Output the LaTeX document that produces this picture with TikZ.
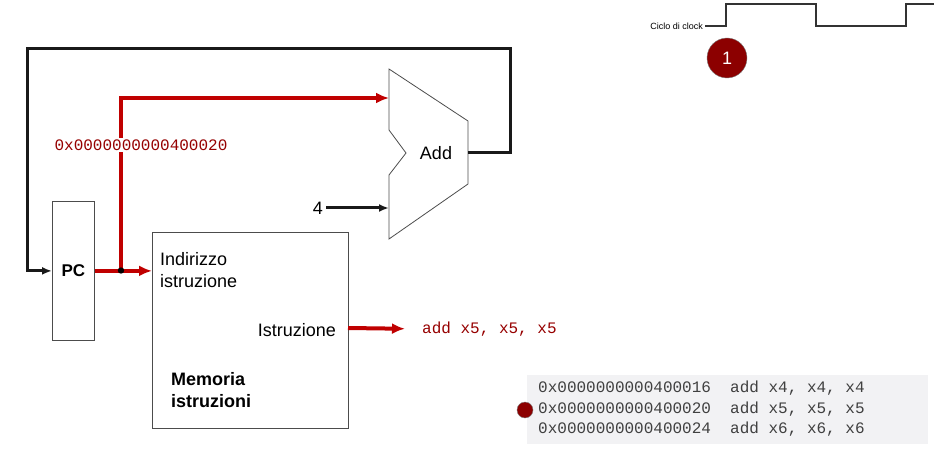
\documentclass[tikz,border=0pt]{standalone}
\usepackage{fontspec}
\setmainfont{Liberation Sans}
\setmonofont{Liberation Mono}
\usetikzlibrary{arrows.meta,positioning}
\definecolor{wirered}{RGB}{192,0,0}
\definecolor{textred}{RGB}{150,0,0}
\definecolor{dotred}{RGB}{140,0,0}
\definecolor{listgray}{RGB}{242,242,244}

\begin{document}
\begin{tikzpicture}[x=1pt,y=-1pt]
\tikzset{
unit/.style={rectangle,draw=black!70,thick,inner sep=0pt},
lbl/.style={font=\fontsize{18}{22}\selectfont, inner sep=0pt},
boldlbl/.style={font=\fontsize{18}{22}\selectfont\bfseries, inner sep=0pt},
codelbl/.style={font=\ttfamily\fontsize{16}{20.5}\selectfont, inner sep=1pt},
blackwire/.style={draw=black!90, line width=3pt},
blackarrow/.style={blackwire, -{Latex[length=10pt,width=8pt]}},
redwire/.style={draw=wirered, line width=4pt},
redarrow/.style={redwire, -{Latex[length=13pt,width=11pt]}},
stepdot/.style={circle, fill=dotred, draw=gray, inner sep=0pt},
}
\useasboundingbox (0,0) rectangle (934,449);

% blocks
\node [unit, minimum width=42pt, minimum height=139pt, anchor=north west, font=\fontsize{17}{20}\selectfont\bfseries] (pc) at (52,201) {PC};
\node [unit, minimum width=196pt, minimum height=196pt, anchor=north west] (imem) at (152,232) {};
\node [lbl, anchor=north west, align=left] (imemin) at (160,252) {Indirizzo\\istruzione};
\node [lbl, anchor=east] (imemoutlbl) at (336,330) {Istruzione};
\node [boldlbl, anchor=north west, align=left] (imemname) at (171,372) {Memoria\\istruzioni};

% adder
\draw [black!70, thick] (389,69) -- (468,121) -- (468,184) -- (389,239) -- (389,175) -- (406,153) -- (389,130) -- cycle;
\node [lbl] (adder) at (436,153) {Add};
\coordinate (addA) at (389,98);
\coordinate (addB) at (389,208);
\coordinate (addout) at (468,153);
\node [lbl, inner sep=3pt] (four) at (318,208) {4};

% wires
\draw[blackarrow] (addout) -- ++(42,0) |- (27,49) |- (pc.west);
\draw[blackarrow] (four) -- (addB);
\coordinate (split) at (121,270.5);
\draw[redarrow] (split) |- (addA);
\node [codelbl, fill=white, text=textred, inner sep=2pt] (pcval) at (141,145) {0x0000000000400020};
\draw[redarrow] (pc.east) -- (imem.west |- pc.east);
\fill[black] (split) circle (3.2);
\coordinate (imemout) at (348,328);
\node [codelbl, text=textred, anchor=west, inner sep=0pt] (instr) at (422,329) {add x5, x5, x5};
\draw[redarrow, shorten >=17pt] (imemout) -- (instr.west);

% clock
\node [font=\fontsize{9}{10}\selectfont, anchor=east, inner sep=0pt] (clklbl) at (703,26) {Ciclo di clock};
\draw [black!80, line width=2pt] (clklbl.east) ++(2,0) -- (726,26) -- (726,4) -- (816,4) -- (816,26) -- (906,26) -- (906,4) -- (934,4);
\node [stepdot, minimum size=40pt, text=white, font=\fontsize{18}{20}\selectfont] (step1) at (727,58) {1};

% program listing
\node [fill=listgray, minimum width=401pt, minimum height=69pt, anchor=north west, inner sep=0pt] (listbg) at (527,375) {};
\node [codelbl, text=black!75, anchor=west, align=left] (listing) at (537,409) {0x0000000000400016~~add x4, x4, x4\\0x0000000000400020~~add x5, x5, x5\\0x0000000000400024~~add x6, x6, x6};
\node [stepdot, minimum size=16pt] (curdot) at (525,410) {};
\end{tikzpicture}
\end{document}
